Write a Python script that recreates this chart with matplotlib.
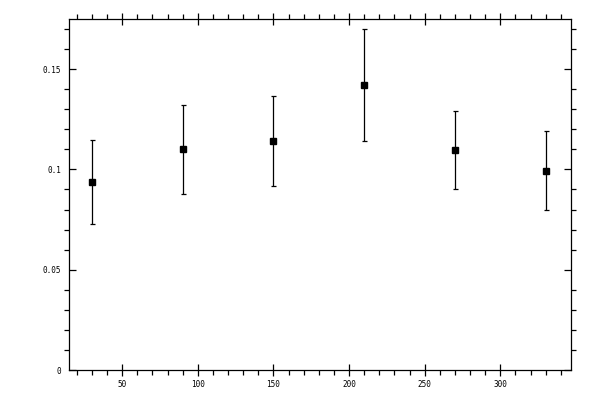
import matplotlib
matplotlib.use("Agg")
import matplotlib.pyplot as plt
from matplotlib.ticker import MultipleLocator, FuncFormatter

x_vals = [30, 90, 150, 210, 270, 330]
y_vals = [0.0936, 0.1100, 0.1140, 0.1420, 0.1095, 0.0991]
y_upper = [0.1145, 0.1320, 0.1368, 0.1698, 0.1290, 0.1190]
y_lower = [0.0726, 0.0876, 0.0916, 0.1140, 0.0901, 0.0796]

err_lo = [v - lo for v, lo in zip(y_vals, y_lower)]
err_hi = [hi - v for v, hi in zip(y_vals, y_upper)]

plt.rcParams['font.family'] = ['DejaVu Sans Mono']
fig = plt.figure(figsize=(6, 4), dpi=100)
ax = fig.add_axes([0.1155, 0.075, 0.951 - 0.1155, 0.9525 - 0.075])

ax.errorbar(x_vals, y_vals, yerr=[err_lo, err_hi], fmt='s', color='black',
            ecolor='black', elinewidth=0.9, capsize=1.8, capthick=0.9,
            markersize=4.8)

ax.set_xlim(15, 346.5)
ax.set_ylim(0, 0.175)

ax.xaxis.set_major_locator(MultipleLocator(50))
ax.xaxis.set_minor_locator(MultipleLocator(10))
ax.yaxis.set_major_locator(MultipleLocator(0.05))
ax.yaxis.set_minor_locator(MultipleLocator(0.01))

def yfmt(v, pos):
    if abs(v) < 1e-12:
        return "0"
    return ("%.2f" % v).rstrip('0')
ax.yaxis.set_major_formatter(FuncFormatter(yfmt))
ax.xaxis.set_major_formatter(FuncFormatter(lambda v, p: "%d" % v))

for s in ax.spines.values():
    s.set_linewidth(0.9)

ax.tick_params(axis='y', which='major', direction='in', length=5, width=0.9,
               left=True, right=True, labelsize=5.5, pad=6)
ax.tick_params(axis='y', which='minor', direction='out', length=3.3, width=0.9,
               left=True, right=True)
ax.tick_params(axis='x', which='major', direction='inout', length=8, width=0.9,
               bottom=True, top=True, labelsize=5.5, pad=3.5)
ax.tick_params(axis='x', which='minor', direction='out', length=3.5, width=0.9,
               bottom=True, top=True)

fig.savefig("out.png", dpi=100)
